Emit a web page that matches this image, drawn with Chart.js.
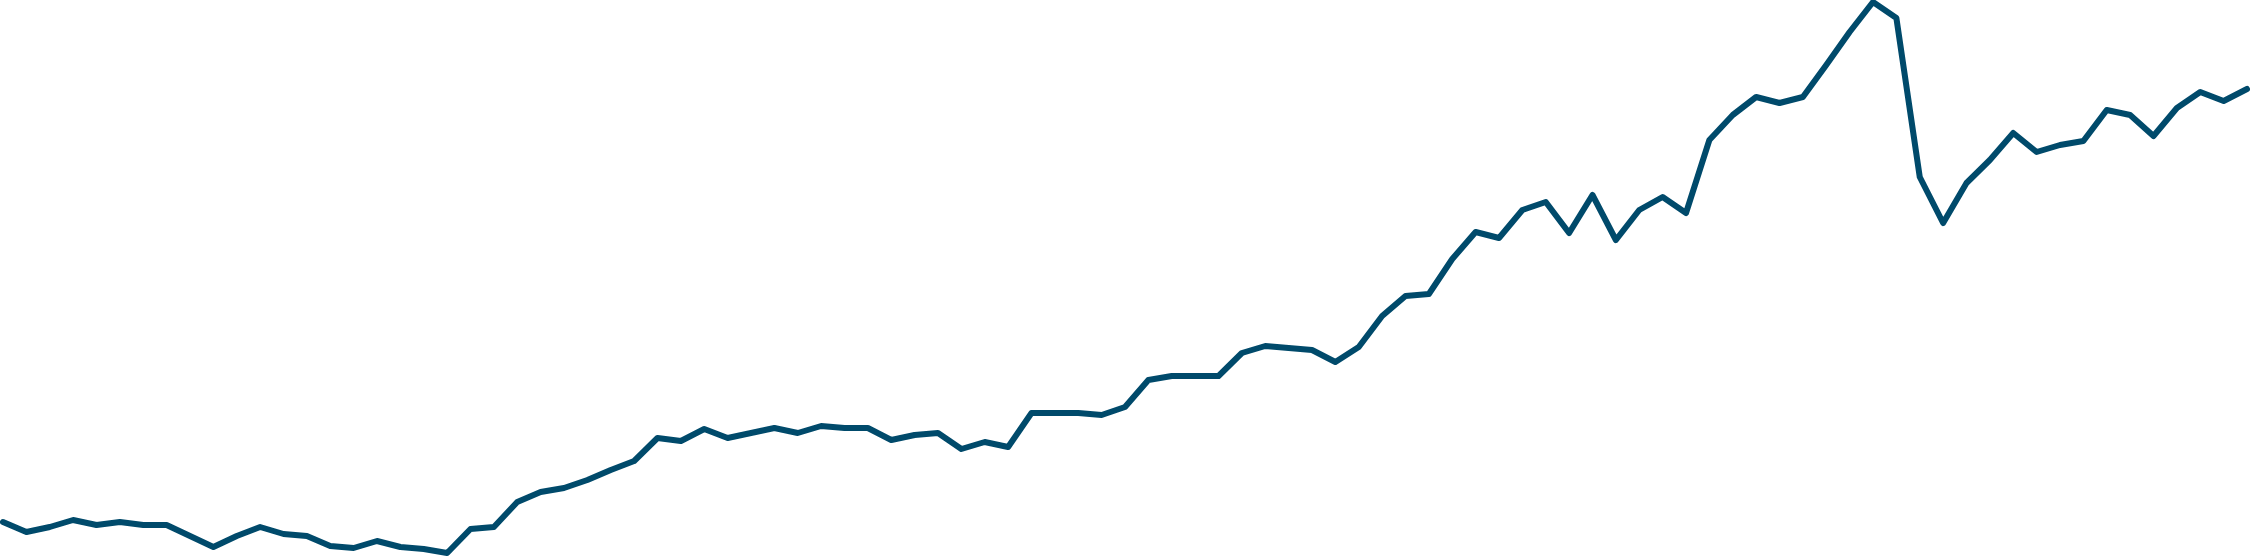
<!DOCTYPE html>
<html>
<head>
<meta charset="utf-8">
<script src="https://cdn.jsdelivr.net/npm/chart.js@4/dist/chart.umd.min.js"></script>
<style>
    html, body { margin: 0; padding: 0; background: #ffffff; }
    #wrap { width: 2250px; height: 558px; position: relative; }
</style>
</head>
<body>
<div id="wrap"><canvas id="lineChart"></canvas></div>
<script>
// Series values (no axes or labels are shown)
const values = [
    36, 26, 31, 38, 33, 36, 33, 33, 22, 11,
    22, 31, 24, 22, 12, 10, 17, 11, 9, 5,
    29, 31, 56, 66, 70, 78, 88, 97, 120, 117,
    129, 120, 125, 130, 125, 132, 130, 130, 118, 123,
    125, 109, 116, 111, 145, 145, 145, 143, 151, 178,
    182, 182, 182, 205, 212, 210, 208, 196, 211, 242,
    262, 264, 299, 326, 320, 348, 356, 325, 363, 318,
    348, 361, 345, 418, 443, 461, 455, 461, 493, 526,
    556, 540, 381, 335, 375, 398, 425, 406, 413, 417,
    448, 443, 422, 450, 466, 457, 469
];
const categories = values.map((_, i) => String(i + 1));

const yMin = 0;
const yMax = 558;
const lineColor = '#004a6b';

document.addEventListener('DOMContentLoaded', () => {
    const ctx = document.getElementById('lineChart').getContext('2d');

    new Chart(ctx, {
        type: 'line',
        data: {
            labels: categories,
            datasets: [
                {
                    data: values,
                    borderColor: lineColor,
                    borderWidth: 6,
                    borderJoinStyle: 'round',
                    borderCapStyle: 'round',
                    pointRadius: 0,
                    tension: 0,
                    fill: false
                }
            ]
        },
        options: {
            responsive: true,
            maintainAspectRatio: false,
            animation: false,
            layout: {
                padding: { left: 3, right: 3, top: 0, bottom: 0 }
            },
            plugins: {
                legend: { display: false },
                tooltip: { enabled: false }
            },
            scales: {
                x: {
                    display: false,
                    offset: false
                },
                y: {
                    display: false,
                    min: yMin,
                    max: yMax
                }
            }
        }
    });
});
</script>
</body>
</html>
